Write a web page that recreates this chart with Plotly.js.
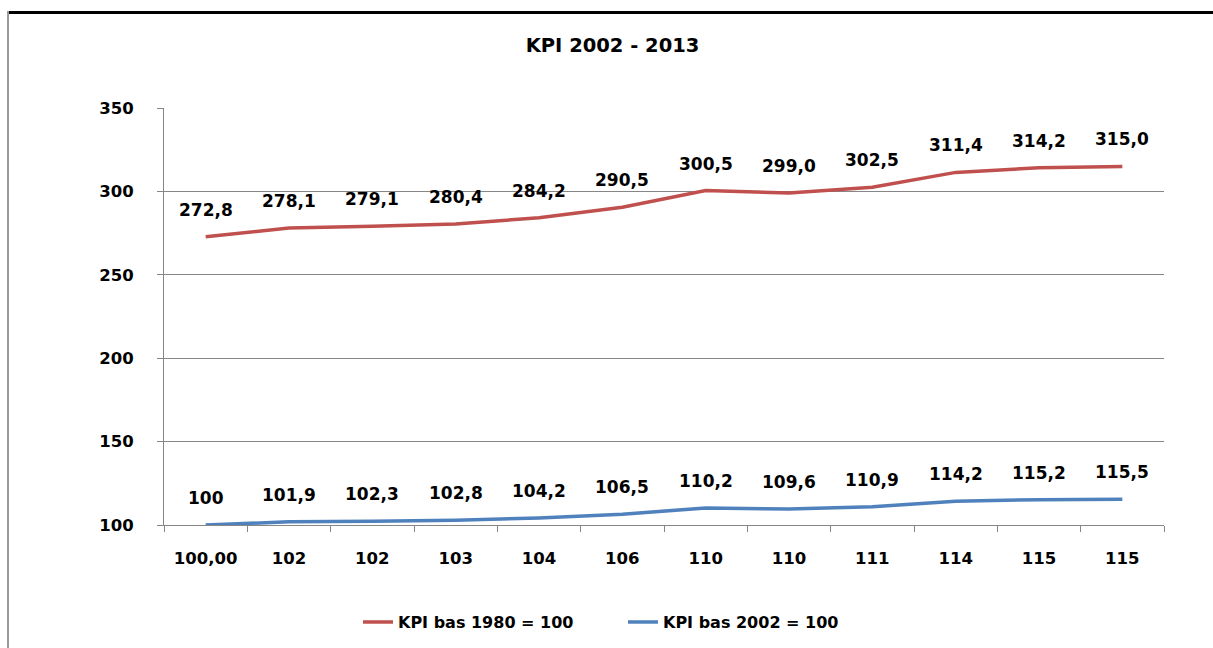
<!DOCTYPE html>
<html>
<head>
<meta charset="utf-8">
<script src="https://cdn.plot.ly/plotly-3.0.1.min.js"></script>
<style>
html,body{margin:0;padding:0;background:#fff;}
#wrap{position:relative;width:1213px;height:648px;overflow:hidden;}
#chart{position:absolute;left:0;top:0;width:1213px;height:648px;}
#bt{position:absolute;left:7px;top:11px;width:1206px;height:3px;background:#000;}
#bl{position:absolute;left:7px;top:11px;width:2px;height:637px;background:#9a9a9a;}
</style>
</head>
<body>
<div id="wrap"><div id="chart"></div><div id="bt"></div><div id="bl"></div></div>
<script>
const categories = ["100,00","102","102","103","104","106","110","110","111","114","115","115"];
const kpi1980 = [272.8,278.1,279.1,280.4,284.2,290.5,300.5,299.0,302.5,311.4,314.2,315.0];
const kpi2002 = [100,101.9,102.3,102.8,104.2,106.5,110.2,109.6,110.9,114.2,115.2,115.5];
const labels1980 = ["272,8","278,1","279,1","280,4","284,2","290,5","300,5","299,0","302,5","311,4","314,2","315,0"];
const labels2002 = ["100","101,9","102,3","102,8","104,2","106,5","110,2","109,6","110,9","114,2","115,2","115,5"];
const seriesNames = ["KPI bas 1980 = 100","KPI bas 2002 = 100"];

const idx = categories.map((c,i)=>i);
const font = "'DejaVu Sans', Verdana, sans-serif";

const traces = [
  {x: idx, y: kpi1980, type:'scatter', mode:'lines', name: seriesNames[0],
   line:{color:'#C0504D', width:3.5}, hoverinfo:'skip'},
  {x: idx, y: kpi2002, type:'scatter', mode:'lines', name: seriesNames[1],
   line:{color:'#4F81BD', width:3.5}, hoverinfo:'skip'}
];

const annotations = [];
idx.forEach(i=>{
  annotations.push({x:i, y:kpi1980[i], xref:'x', yref:'y', text:labels1980[i], showarrow:false, yshift:27,
    font:{family:font, size:17, color:'#000', weight:'bold'}});
  annotations.push({x:i, y:kpi2002[i], xref:'x', yref:'y', text:labels2002[i], showarrow:false, yshift:27,
    font:{family:font, size:17, color:'#000', weight:'bold'}});
});

const layout = {
  width:1213, height:648,
  margin:{l:164, r:49, t:108, b:123},
  paper_bgcolor:'#fff', plot_bgcolor:'#fff',
  showlegend:true,
  title:{text:'<b>KPI 2002 - 2013</b>', x:0.505, xanchor:'center', y:0.9306, yanchor:'middle',
    font:{family:font, size:19.5, color:'#000'}},
  xaxis:{type:'linear', range:[-0.5,11.5], tickmode:'array', tickvals:idx, ticktext:categories,
    showgrid:false, zeroline:false, showline:true, linecolor:'#868686', linewidth:1,
    ticks:'', ticklabelstandoff:18,
    tickfont:{family:font, size:16.5, color:'#000', weight:'bold'},
    minor:{tick0:-0.5, dtick:1, ticks:'outside', ticklen:6, tickcolor:'#868686', tickwidth:1, showgrid:false}},
  yaxis:{range:[100,350], dtick:50, tick0:100, showgrid:true, gridcolor:'#868686', gridwidth:1,
    zeroline:false, showline:true, linecolor:'#868686', linewidth:1,
    ticks:'outside', ticklen:6, tickcolor:'#868686', ticklabelstandoff:20,
    tickfont:{family:font, size:16.5, color:'#000', weight:'bold'}},
  legend:{orientation:'h', xref:'container', yref:'container', x:0.5136, xanchor:'center', y:0.04, yanchor:'middle',
    font:{family:font, size:16, color:'#000', weight:'bold'}, entrywidth:220, entrywidthmode:'pixels', tracegroupgap:0},
  annotations: annotations
};

Plotly.newPlot('chart', traces, layout, {displayModeBar:false, staticPlot:true});
</script>
</body>
</html>
